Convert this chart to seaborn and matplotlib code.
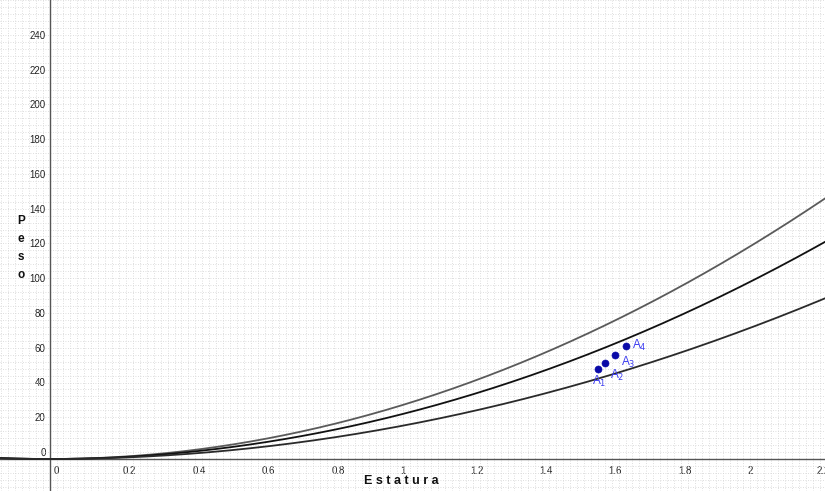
import numpy as np
import pandas as pd
import seaborn as sns
import matplotlib.pyplot as plt
from matplotlib.ticker import MultipleLocator
from matplotlib.transforms import offset_copy

# curvas peso = imc * estatura^2
imc = [30, 25, 18.5]
curve_colors = ['#5a5a5a', '#111111', '#2a2a2a']

# puntos A1..A4
estatura = [1.58, 1.60, 1.63, 1.66]
peso = [52, 55, 60, 65]
point_names = ['A$_1$', 'A$_2$', 'A$_3$', 'A$_4$']
label_offsets = [(-4, -12), (4, -11), (4, -8), (5, -2)]

x_ticks = [0, 0.2, 0.4, 0.6, 0.8, 1, 1.2, 1.4, 1.6, 1.8, 2, 2.2]
x_tick_labels = ['0', '0.2', '0.4', '0.6', '0.8', '1', '1.2', '1.4', '1.6', '1.8', '2', '2.2']
y_ticks = list(range(0, 241, 20))

sns.set_style('white')
plt.rcParams['font.family'] = ['Liberation Sans', 'DejaVu Sans']

fig = plt.figure(figsize=(8.25, 4.91), dpi=100)
ax = fig.add_axes([0, 0, 1, 1])

h = np.linspace(-0.16, 2.26, 400)
frames = []
for k in imc:
    frames.append(pd.DataFrame({'h': h, 'w': k * h ** 2, 'imc': str(k)}))
curves = pd.concat(frames)
sns.lineplot(data=curves, x='h', y='w', hue='imc', palette=curve_colors,
             linewidth=1.3, legend=False, ax=ax, zorder=3)

pts = pd.DataFrame({'estatura': estatura, 'peso': peso})
sns.scatterplot(data=pts, x='estatura', y='peso', color='#0a0aa8', s=26,
                edgecolor='#0a0aa8', ax=ax, zorder=4)
for name, xv, yv, off in zip(point_names, estatura, peso, label_offsets):
    ax.annotate(name, (xv, yv), xytext=off, textcoords='offset points',
                color='#3c3cf0', fontsize=8.5, zorder=5)

ax.set_xlim(-0.143, 2.235)
ax.set_ylim(-18.4, 264)

ax.spines['top'].set_visible(False)
ax.spines['right'].set_visible(False)
ax.spines['left'].set_position(('data', 0))
ax.spines['bottom'].set_position(('data', 0))
for s in ['left', 'bottom']:
    ax.spines[s].set_color('#555555')
    ax.spines[s].set_linewidth(1.0)
    ax.spines[s].set_zorder(2)

ax.set_xticks(x_ticks)
ax.set_xticklabels(x_tick_labels)
ax.set_yticks(y_ticks)
ax.set_yticklabels([str(v) for v in y_ticks])
ax.xaxis.set_minor_locator(MultipleLocator(0.02))
ax.yaxis.set_minor_locator(MultipleLocator(4))
ax.tick_params(which='major', direction='out', length=3, width=0.8,
               color='#555555', labelsize=7, labelcolor='#222222', pad=2)
ax.tick_params(which='minor', length=0)

for lbl in ax.get_xticklabels():
    lbl.set_horizontalalignment('left')
    lbl.set_transform(offset_copy(lbl.get_transform(), fig=fig, x=4, y=0, units='dots'))
for lbl in ax.get_yticklabels():
    lbl.set_verticalalignment('bottom')
    lbl.set_transform(offset_copy(lbl.get_transform(), fig=fig, x=3, y=1, units='dots'))

ax.grid(True, which='both', color='#d4d4d4', linewidth=0.6, linestyle=(0, (1, 2)))
ax.set_axisbelow(True)
ax.set_xlabel('')
ax.set_ylabel('')

fig.text(401 / 825, 1 - 481 / 491, 'E s t a t u r a', ha='center', va='center',
         fontsize=9, fontweight='bold', color='#111111')
fig.text(21 / 825, 1 - 248 / 491, 'P\ne\ns\no', ha='center', va='center',
         fontsize=8.5, fontweight='bold', color='#111111', linespacing=1.7)

fig.savefig('out.png', dpi=100)
